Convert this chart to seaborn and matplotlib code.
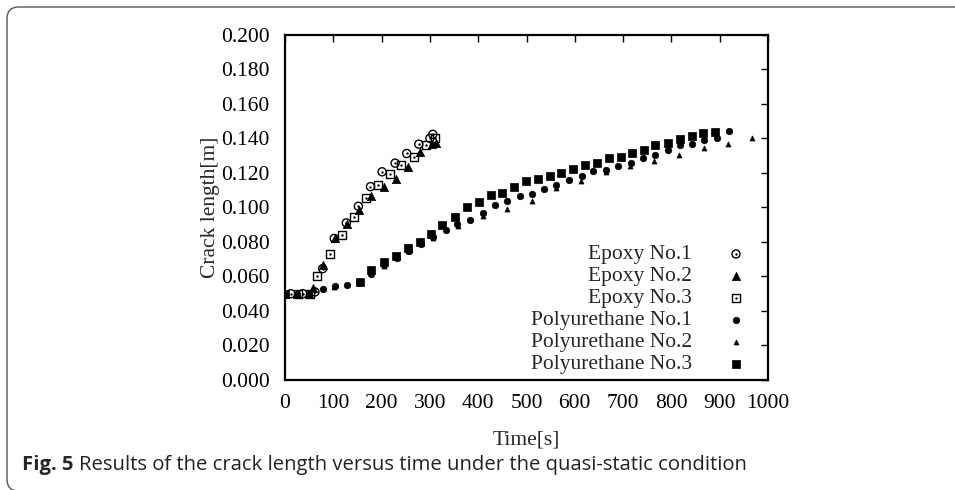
import numpy as np
import pandas as pd
import seaborn as sns
import matplotlib
matplotlib.use("Agg")
import matplotlib.pyplot as plt
from matplotlib.patches import FancyBboxPatch
from matplotlib.ticker import FormatStrFormatter

# ---- data ----
ep1_t = [12, 37, 62, 78, 102, 127, 152, 177, 201, 228, 252, 277, 300, 306]
ep1_a = [0.050, 0.050, 0.051, 0.0645, 0.082, 0.091, 0.1006, 0.112, 0.1206, 0.1256, 0.1312, 0.1366, 0.140, 0.1423]

ep2_t = [0, 25, 50, 59, 79, 103, 128, 154, 179, 204, 230, 255, 280, 305, 312]
ep2_a = [0.050, 0.050, 0.050, 0.053, 0.0665, 0.082, 0.0905, 0.0987, 0.1064, 0.112, 0.1163, 0.1235, 0.1323, 0.1366, 0.1375]

ep3_t = [27, 52, 67, 93, 118, 143, 167, 192, 217, 241, 267, 292, 311]
ep3_a = [0.050, 0.050, 0.060, 0.073, 0.0842, 0.0946, 0.1056, 0.1131, 0.1194, 0.1246, 0.1292, 0.136, 0.140]

pu1_t = [0, 25, 50, 78, 103, 128, 154, 179, 206, 231, 257, 282, 307, 333, 357, 384, 409, 434, 460,
         486, 512, 537, 562, 589, 614, 638, 665, 690, 716, 742, 766, 792, 818, 843, 868, 894, 919]
pu1_a = [0.050, 0.050, 0.050, 0.0525, 0.0542, 0.0548, 0.057, 0.0615, 0.0664, 0.0708, 0.0746, 0.0785,
         0.0827, 0.0866, 0.0904, 0.0929, 0.0965, 0.1013, 0.1039, 0.1064, 0.1075, 0.1105, 0.1127, 0.1158,
         0.1184, 0.1209, 0.1219, 0.124, 0.1259, 0.1284, 0.1301, 0.1334, 0.1359, 0.1369, 0.1388, 0.1403, 0.1442]

pu2_t = [0, 50, 102, 153, 204, 255, 306, 358, 409, 460, 511, 562, 613, 665, 714, 765, 816, 868, 918, 967]
pu2_a = [0.050, 0.050, 0.054, 0.056, 0.066, 0.075, 0.082, 0.0894, 0.095, 0.099, 0.1035, 0.111, 0.1154,
         0.1202, 0.1237, 0.1267, 0.1304, 0.1346, 0.1369, 0.1402]

pu3_t = [0, 155, 179, 205, 230, 255, 280, 302, 326, 352, 376, 401, 426, 450, 474, 499, 523, 549, 571,
         596, 621, 645, 671, 695, 719, 743, 767, 792, 818, 842, 865, 890]
pu3_a = [0.050, 0.0569, 0.0639, 0.0683, 0.0721, 0.0763, 0.080, 0.0846, 0.0898, 0.0942, 0.100, 0.1032,
         0.1069, 0.1083, 0.1115, 0.115, 0.1162, 0.1184, 0.1197, 0.122, 0.1244, 0.1255, 0.1283, 0.1294,
         0.1317, 0.1334, 0.1363, 0.1375, 0.1393, 0.1416, 0.1429, 0.1438]

labels = ["Epoxy No.1", "Epoxy No.2", "Epoxy No.3",
          "Polyurethane No.1", "Polyurethane No.2", "Polyurethane No.3"]
x_ticks = list(range(0, 1001, 100))
y_ticks = [round(0.02 * i, 3) for i in range(11)]

# ---- style ----
sns.set_theme(style="white")
plt.rcParams['font.family'] = ['Liberation Serif', 'DejaVu Serif']

FS = 15.5
fig = plt.figure(figsize=(9.55, 4.9), dpi=100)
ax = fig.add_axes([285 / 955, 1 - 380 / 490, (768 - 285) / 955, (380 - 34.7) / 490])

series = [
    (ep1_t, ep1_a, dict(marker='o', s=34, facecolor='none', edgecolor='black', linewidth=1.0), True),
    (ep2_t, ep2_a, dict(marker='^', s=36, color='black', edgecolor='black', linewidth=0.5), False),
    (ep3_t, ep3_a, dict(marker='s', s=34, facecolor='none', edgecolor='black', linewidth=1.0), True),
    (pu1_t, pu1_a, dict(marker='o', s=22, color='black', edgecolor='black', linewidth=0.5), False),
    (pu2_t, pu2_a, dict(marker='^', s=13, color='black', edgecolor='black', linewidth=0.5), False),
    (pu3_t, pu3_a, dict(marker='s', s=36, color='black', edgecolor='black', linewidth=0.5), False),
]

leg_y0 = 1 - (254 - 34.7) / (380 - 34.7)
leg_dy = 22.0 / (380 - 34.7)
leg_tx = (692 - 285) / (768 - 285)
leg_mx = (736 - 285) / (768 - 285)

for i, (t, a, kw, dot) in enumerate(series):
    df = pd.DataFrame({"Time": t, "Crack": a})
    sns.scatterplot(data=df, x="Time", y="Crack", ax=ax, zorder=3 + (6 - i) * 0.1, **kw)
    if dot:
        sns.scatterplot(data=df, x="Time", y="Crack", ax=ax, marker='o', s=3, color='black',
                        edgecolor='black', linewidth=0, zorder=3.7)
    yy = leg_y0 - i * leg_dy
    ax.text(leg_tx, yy, labels[i], transform=ax.transAxes, ha='right', va='center', fontsize=FS)
    ax.scatter([leg_mx], [yy], transform=ax.transAxes, clip_on=False, **kw)
    if dot:
        ax.scatter([leg_mx], [yy], transform=ax.transAxes, marker='o', s=3, color='black', linewidth=0)

ax.set_xlim(0, 1000)
ax.set_ylim(0, 0.2)
ax.set_xticks(x_ticks)
ax.set_yticks(y_ticks)
ax.yaxis.set_major_formatter(FormatStrFormatter('%.3f'))
ax.tick_params(direction='in', length=5, width=1.0, top=True, right=True,
               labelsize=FS, colors='black')
ax.tick_params(axis='y', pad=11)
ax.tick_params(axis='x', pad=10)
for sp in ax.spines.values():
    sp.set_linewidth(1.6)
    sp.set_color('black')
ax.set_xlabel("Time[s]", fontsize=FS, labelpad=13)
ax.set_ylabel("Crack length[m]", fontsize=FS, labelpad=1)
ax.grid(False)

# caption
fig.text(22 / 955, 1 - 465 / 490, "Fig. 5", fontsize=14.6, fontweight='bold',
         family=['Open Sans', 'DejaVu Sans'], va='center', ha='left')
fig.text(79 / 955, 1 - 465 / 490, "Results of the crack length versus time under the quasi-static condition",
         fontsize=14.6, family=['Open Sans', 'DejaVu Sans'], va='center', ha='left', color='#222222')

# rounded frame
frame = FancyBboxPatch((7 / 955, 1 - 491 / 490), 1.2, (491 - 7) / 490,
                       boxstyle="round,pad=0,rounding_size=0.012",
                       transform=fig.transFigure, facecolor='none', edgecolor='#555555',
                       linewidth=1.0, clip_on=False, mutation_aspect=955 / 490)
fig.patches.append(frame)

fig.savefig("out.png", dpi=100)
